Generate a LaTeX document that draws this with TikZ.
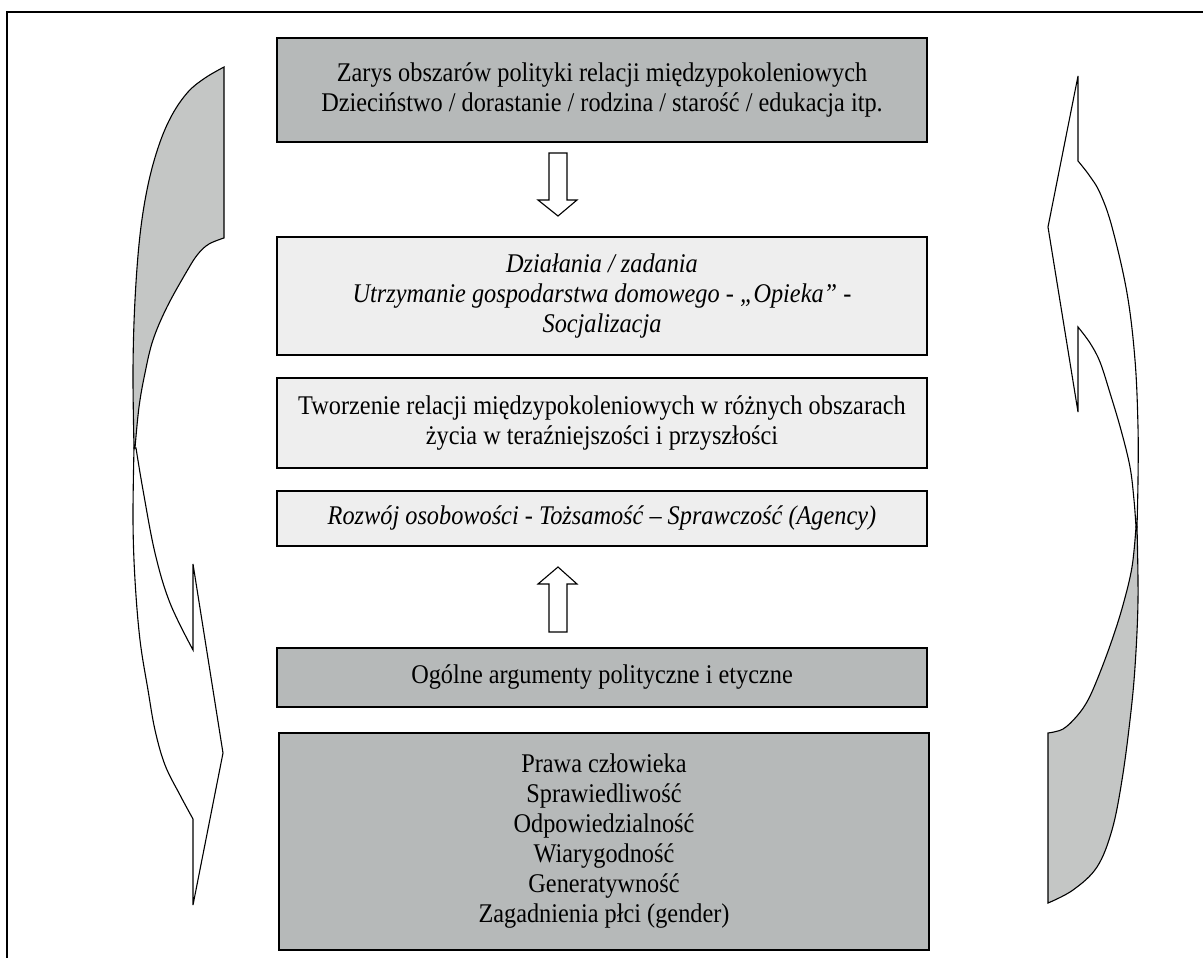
\documentclass[tikz,border=0pt]{standalone}
\usepackage{fontspec}
\setmainfont{Liberation Serif}[FakeStretch=0.9]
\definecolor{darkbox}{RGB}{182,185,185}
\definecolor{lightbox}{RGB}{238,238,238}
\definecolor{arrowgray}{RGB}{196,198,197}
\newcommand{\btext}[2][]{\parbox{640pt}{\centering\fontsize{27}{30}\selectfont#1#2\par}}
\tikzset{
  boxbase/.style={draw=black, line width=1.6pt, inner sep=0pt, minimum width=650pt},
  darkbx/.style={boxbase, fill=darkbox},
  lightbx/.style={boxbase, fill=lightbox},
  blockarrow/.style={draw=black, fill=white, line width=1.1pt, line join=miter},
  curvegray/.style={draw=black, fill=arrowgray, line width=1.1pt, line join=miter},
  curvewhite/.style={draw=black, fill=white, line width=1.1pt, line join=miter},
}
\begin{document}
\begin{tikzpicture}[x=1pt,y=-1pt]
\useasboundingbox (0,0) rectangle (1203,958);
\fill[white] (0,0) rectangle (1203,958);
% frame
\draw[line width=1.8pt] (7,975) -- (7,12) -- (1215,12);

% boxes
\node[darkbx, minimum height=104pt] (b1) at (602,90)
  {\btext{Zarys obszarów polityki relacji międzypokoleniowych\\Dzieciństwo / dorastanie / rodzina / starość / edukacja itp.}};
\node[lightbx, minimum height=118pt] (b2) at (602,296)
  {\btext[\itshape]{Działania / zadania\\Utrzymanie gospodarstwa domowego - „Opieka” -\\Socjalizacja}};
\node[lightbx, minimum height=90pt] (b3) at (602,423)
  {\btext{Tworzenie relacji międzypokoleniowych w różnych obszarach\\życia w teraźniejszości i przyszłości}};
\node[lightbx, minimum height=55pt] (b4) at (602,518.5)
  {\btext[\itshape]{Rozwój osobowości - Tożsamość – Sprawczość (Agency)}};
\node[darkbx, minimum height=59pt] (b5) at (602,677.5)
  {\btext{Ogólne argumenty polityczne i etyczne}};
\node[darkbx, minimum height=217pt] (b6) at (604,841.5)
  {\btext{Prawa człowieka\\Sprawiedliwość\\Odpowiedzialność\\Wiarygodność\\Generatywność\\Zagadnienia płci (gender)}};

% block arrows
\coordinate (da) at (558,153);
\draw[blockarrow] (da) ++(-9,0) -- ++(18,0) -- ++(0,47) -- ++(10,0) -- (558,216) -- (538,200) -- (549,200) -- cycle;
\coordinate (ua) at (558,632);
\draw[blockarrow] (ua) ++(-9,0) -- ++(18,0) -- ++(0,-48) -- ++(10,0) -- (558,567) -- (538,584) -- (549,584) -- cycle;

% left curved arrow
\draw[curvewhite] plot[smooth, tension=0.6] coordinates {(134,448) (133,520) (135,580) (140,640) (148,690) (155,730) (165,765) (180,795) (193,819)}
  -- (193,905) -- (223,753) -- (193,564) -- (193,650)
  -- plot[smooth, tension=0.6] coordinates {(193,650) (170,603) (155,553) (143,490) (136,448)} -- cycle;
\draw[curvegray] (224,67) -- (224,238)
  -- plot[smooth, tension=0.6] coordinates {(224,238) (209,244) (198,254) (187,271) (167,307) (153,340) (145,373) (139,407) (135,448)}
  -- plot[smooth, tension=0.6] coordinates {(134,448) (133,370) (135,300) (140,235) (148,185) (159,145) (172,115) (188,92) (205,78) (224,67)} -- cycle;

% right curved arrow
\draw[curvewhite] plot[smooth, tension=0.6] coordinates {(1137,527) (1138,480) (1138,427) (1135,360) (1127,293) (1112,227) (1100,193) (1089,175) (1078,161)}
  -- (1078,76) -- (1048,227) -- (1078,412) -- (1078,327)
  -- plot[smooth, tension=0.6] coordinates {(1078,327) (1090,343) (1100,362) (1110,393) (1121,430) (1130,467) (1134,500) (1136,527)} -- cycle;
\draw[curvegray] plot[smooth, tension=0.6] coordinates {(1137,527) (1138,600) (1135,667) (1130,720) (1122,780) (1112,830) (1097,867) (1073,890) (1048,903)}
  -- (1048,733)
  -- plot[smooth, tension=0.6] coordinates {(1048,733) (1063,729) (1077,716) (1088,700) (1099,675) (1112,640) (1123,605) (1132,567) (1136,527)} -- cycle;
\end{tikzpicture}
\end{document}
